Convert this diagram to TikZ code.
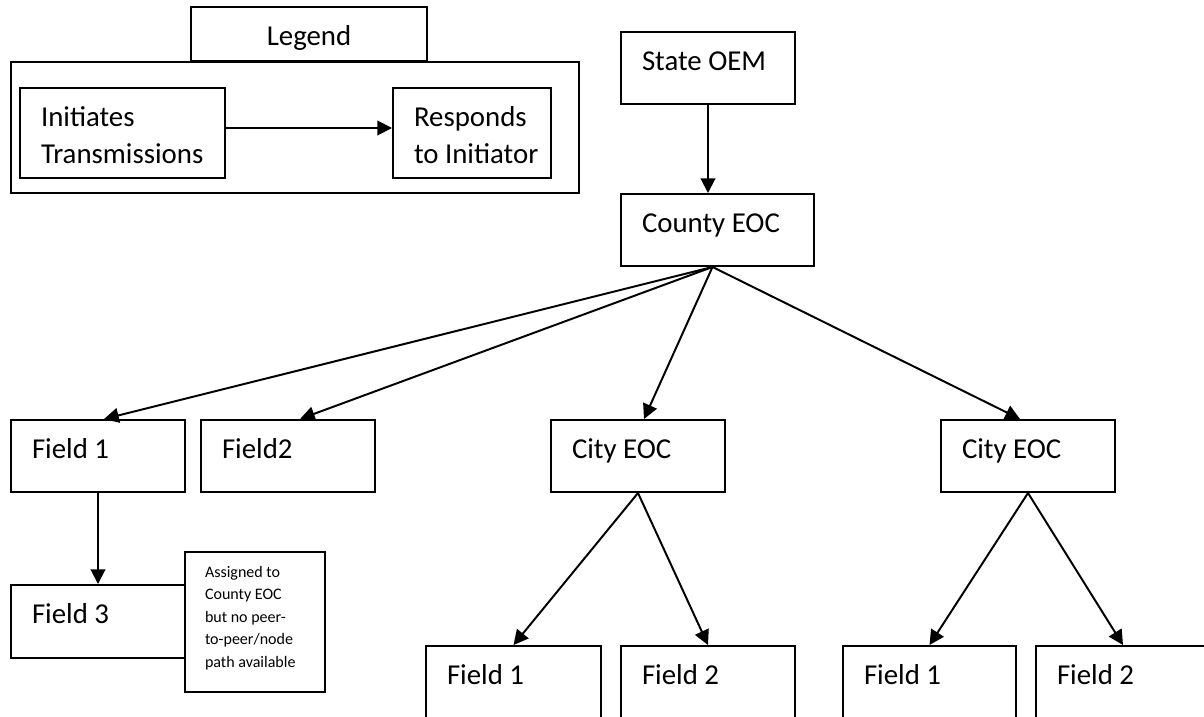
\documentclass[tikz,border=0pt]{standalone}
\usepackage{fontspec}
\setmainfont{Carlito}
\usetikzlibrary{arrows.meta, fit}

\begin{document}
\begin{tikzpicture}[x=0.025cm, y=-0.025cm, line width=1.4pt, >={Triangle[length=10.5pt, width=10.5pt]},
    main/.style = {draw, fill=white, inner sep=0pt, fit={#1}},
    txt/.style = {anchor=base west, inner sep=0pt, xshift=0.525cm, yshift=-0.975cm, align=left, font=\fontsize{20.5}{26.3}\selectfont},
    two/.style = {txt, yshift=-0.925cm},
    ttl/.style = {anchor=base, inner sep=0pt, yshift=-0.975cm, font=\fontsize{20.5}{26.3}\selectfont},
    note/.style = {anchor=base west, inner sep=0pt, xshift=0.5cm, yshift=-2.9cm, align=left, font=\fontsize{11.4}{16}\selectfont}]
    \clip (0,0) rectangle (1204,717);

    % legend
    \node[main={(11,62) (579,193)}] (2) {};
    \node[main={(191,7) (427,61)}, label={[ttl]north:Legend}] (1) {};
    \node[main={(20,88) (225,178)}, label={[two]north west:{Initiates\\Transmissions}}] (3) {};
    \node[main={(393,88) (551,178)}, label={[two]north west:{Responds\\to Initiator}}] (4) {};

    % tree
    \node[main={(621,32) (795,104)}, label={[txt]north west:State OEM}] (5) {};
    \node[main={(621,194) (814,266)}, label={[txt]north west:County EOC}] (6) {};
    \node[main={(11,420) (185,492)}, label={[txt]north west:Field 1}] (7) {};
    \node[main={(201,420) (375,492)}, label={[txt]north west:Field2}] (8) {};
    \node[main={(551,420) (725,492)}, label={[txt]north west:City EOC}] (9) {};
    \node[main={(941,420) (1115,492)}, label={[txt]north west:City EOC}] (10) {};
    \node[main={(11,585) (185,658)}, label={[txt]north west:Field 3}] (11) {};
    \node[main={(185,552) (325,692)}, label={[note]north west:{Assigned to\\County EOC\\but no peer-\\to-peer/node\\path available}}] (12) {};
    \node[main={(426,646) (601,740)}, label={[txt]north west:Field 1}] (13) {};
    \node[main={(621,646) (795,740)}, label={[txt]north west:Field 2}] (14) {};
    \node[main={(843,646) (1016,740)}, label={[txt]north west:Field 1}] (15) {};
    \node[main={(1036,646) (1210,740)}, label={[txt]north west:Field 2}] (16) {};

    \draw[->] (3.east |- 0,128) to (4.west |- 0,128);
    \draw[->] (5.south) to (5.south |- 6.north);
    \draw[->] ([xshift=-0.125cm]6.south) to ([xshift=0.15cm]7.north);
    \draw[->] ([xshift=-0.125cm]6.south) to ([xshift=0.3cm]8.north);
    \draw[->] ([xshift=-0.125cm]6.south) to ([xshift=0.15cm]9.north);
    \draw[->] ([xshift=-0.125cm]6.south) to ([xshift=-0.2cm]10.north);
    \draw[->] (7.south) to (11.north);
    \draw[->] (9.south) to (13.north);
    \draw[->] (9.south) to (14.north);
    \draw[->] (10.south) to (15.north);
    \draw[->] (10.south) to (16.north);
\end{tikzpicture}
\end{document}
